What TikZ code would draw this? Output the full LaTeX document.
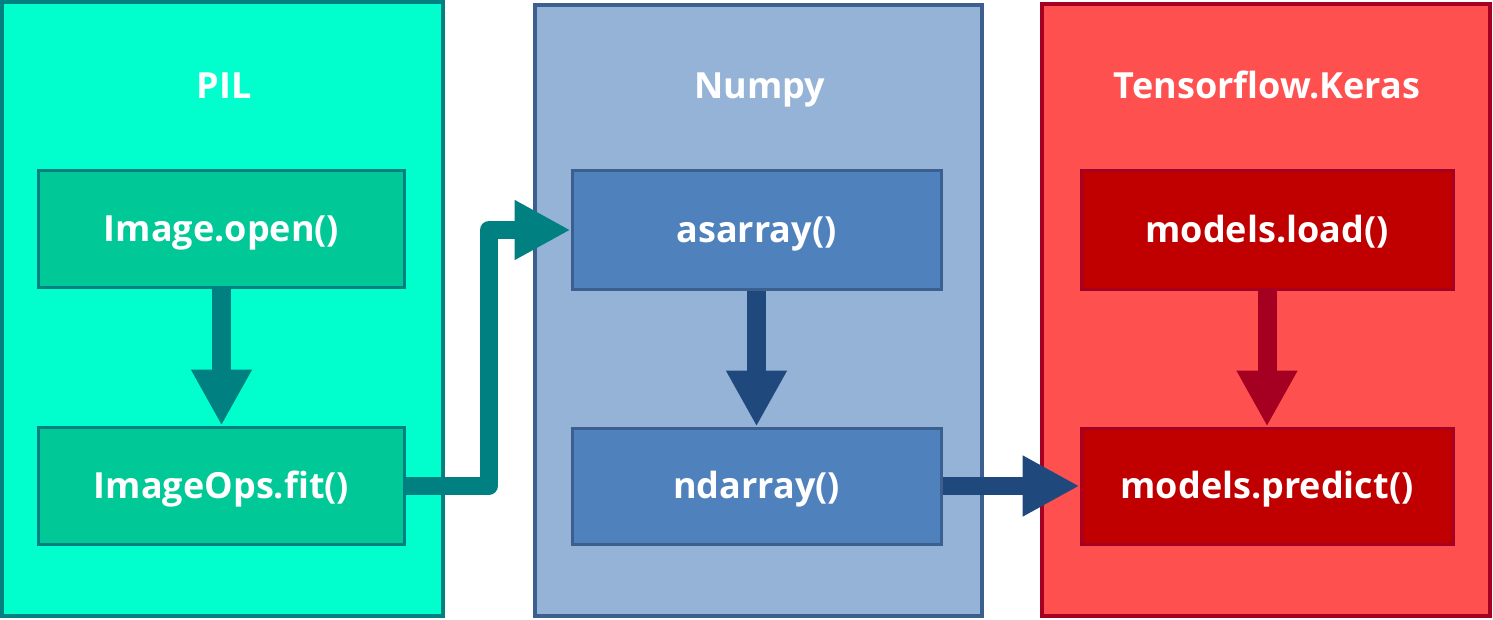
\documentclass[tikz,border=0pt]{standalone}
\usepackage{fontspec}
\setmainfont{Open Sans}
\usetikzlibrary{arrows.meta}
\definecolor{pilfill}{HTML}{00FFCC}
\definecolor{pildraw}{HTML}{008080}
\definecolor{pilbox}{HTML}{00C896}
\definecolor{numfill}{HTML}{95B3D7}
\definecolor{numdraw}{HTML}{3B5F8F}
\definecolor{numbox}{HTML}{4F81BD}
\definecolor{numarrow}{HTML}{1F497D}
\definecolor{tffill}{HTML}{FF5050}
\definecolor{tfdraw}{HTML}{A50021}
\definecolor{tfbox}{HTML}{C00000}
\tikzset{
  panel/.style={rectangle, line width=3.5pt, inner sep=0pt},
  fnbox/.style={rectangle, line width=3pt, minimum width=366pt, minimum height=117pt,
    inner sep=0pt, text=white, font=\fontsize{36}{40}\selectfont\bfseries,
    text height=25.7pt, text depth=0pt},
  title/.style={text=white, font=\fontsize{36}{40}\selectfont\bfseries,
    text height=25.7pt, text depth=0pt, inner sep=0pt},
  fatarrow/.style={line width=19pt, -{Triangle[width=57pt,length=56pt]}},
}
\begin{document}
\begin{tikzpicture}[x=1pt,y=-1pt]
\useasboundingbox (0,0) rectangle (1493,620);
% panels
\node[panel, draw=pildraw, fill=pilfill, minimum width=441pt, minimum height=614pt] (pil) at (222.5,309) {};
\node[panel, draw=numdraw, fill=numfill, minimum width=447pt, minimum height=611pt] (num) at (758.5,310.5) {};
\node[panel, draw=tfdraw, fill=tffill, minimum width=448pt, minimum height=612pt] (tf) at (1266,310) {};
% titles
\node[title] (tpil) at (224,86) {PIL};
\node[title] (tnum) at (760,86) {Numpy};
\node[title] (ttf) at (1267,86) {Tensorflow.Keras};
% boxes
\node[fnbox, draw=pildraw, fill=pilbox] (open) at (221.5,229) {Image.open()};
\node[fnbox, draw=pildraw, fill=pilbox] (fit) at (221.5,485.5) {ImageOps.fit()};
\node[fnbox, draw=numdraw, fill=numbox, minimum width=369pt, minimum height=118pt] (asarray) at (756.5,230) {asarray()};
\node[fnbox, draw=numdraw, fill=numbox, minimum width=369pt, minimum height=116pt] (ndarray) at (756.5,486) {ndarray()};
\node[fnbox, draw=tfdraw, fill=tfbox, minimum width=372pt, minimum height=118pt] (load) at (1267,230) {models.load()};
\node[fnbox, draw=tfdraw, fill=tfbox, minimum width=372pt, minimum height=116pt] (predict) at (1267,486) {models.predict()};
% arrows
\draw[fatarrow, draw=pildraw] (open.south) -- (fit.north);
\draw[fatarrow, draw=numarrow] (asarray.south) -- (ndarray.north);
\draw[fatarrow, draw=tfdraw] (load.south) -- (predict.north);
\coordinate (elbow) at (489,230);
\draw[line width=18pt, line join=round, draw=pildraw, -{Triangle[width=56pt,length=56pt]}]
  (fit.east) -| (elbow) -- (asarray.west);
\draw[line width=18pt, draw=numarrow, -{Triangle[width=57pt,length=57pt]}]
  (ndarray.east) -- (predict.west);
\end{tikzpicture}
\end{document}
